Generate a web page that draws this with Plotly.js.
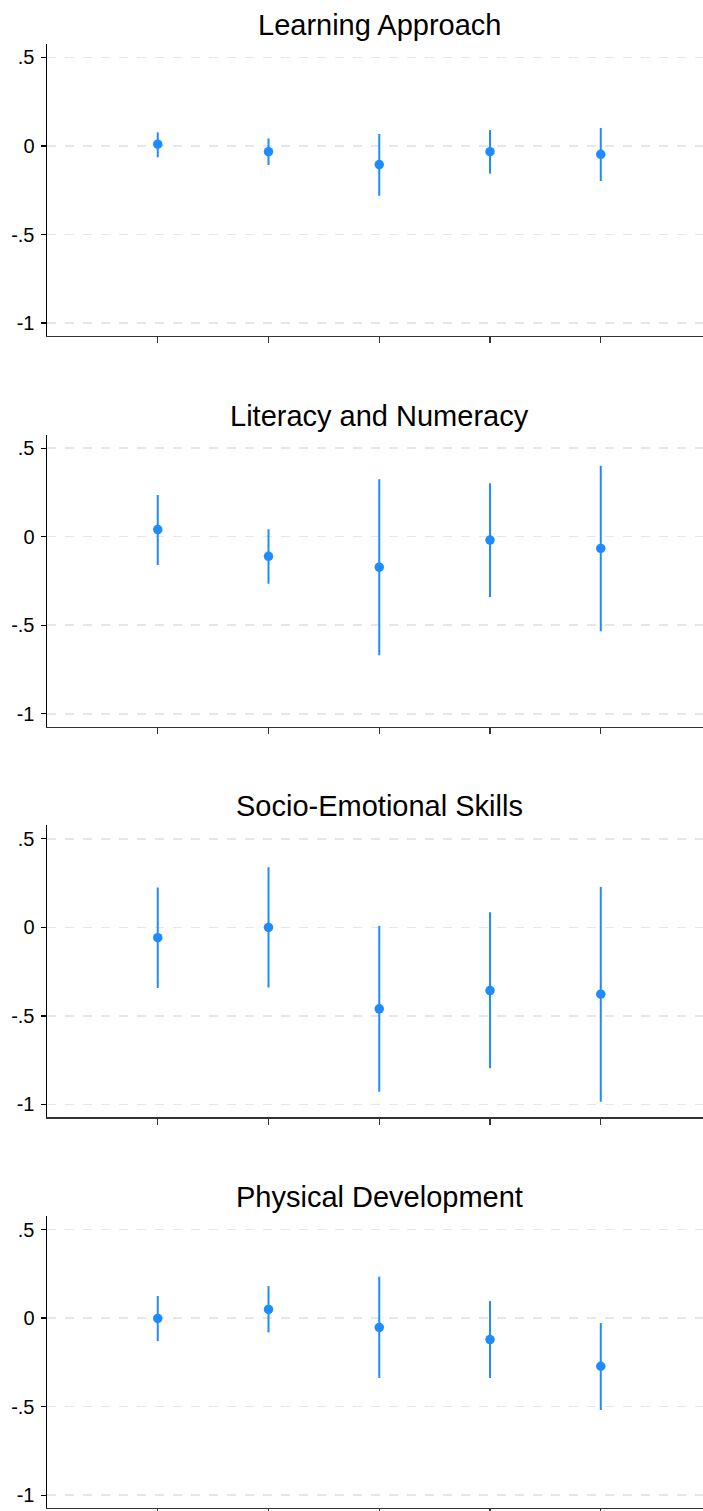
<!DOCTYPE html>
<html>
<head>
<meta charset="utf-8">
<script src="https://cdn.plot.ly/plotly-3.0.1.min.js"></script>
<style>html,body{margin:0;padding:0;background:#fff;}#chart{width:703px;height:1511px;}</style>
</head>
<body>
<div id="chart"></div>
<script>
// ---- data ----
const panelTitles = ["Learning Approach", "Literacy and Numeracy", "Socio-Emotional Skills", "Physical Development"];
const xPositions = [1, 2, 3, 4, 5];
const yTickVals = [0.5, 0, -0.5, -1];
const yTickText = [".5", "0", "-.5", "-1"];

const estLearning = [0.010, -0.032, -0.105, -0.032, -0.047];
const loLearning  = [-0.064, -0.107, -0.281, -0.156, -0.198];
const hiLearning  = [0.077, 0.043, 0.068, 0.090, 0.102];

const estLiteracy = [0.040, -0.111, -0.172, -0.019, -0.066];
const loLiteracy  = [-0.160, -0.266, -0.670, -0.340, -0.534];
const hiLiteracy  = [0.236, 0.042, 0.325, 0.302, 0.400];

const estSocio = [-0.058, 0.000, -0.460, -0.357, -0.377];
const loSocio  = [-0.342, -0.340, -0.928, -0.796, -0.985];
const hiSocio  = [0.225, 0.340, 0.009, 0.085, 0.228];

const estPhysical = [-0.002, 0.049, -0.053, -0.121, -0.272];
const loPhysical  = [-0.130, -0.081, -0.338, -0.338, -0.519];
const hiPhysical  = [0.125, 0.181, 0.234, 0.096, -0.028];

const panels = [
  {est: estLearning, lo: loLearning, hi: hiLearning},
  {est: estLiteracy, lo: loLiteracy, hi: hiLiteracy},
  {est: estSocio, lo: loSocio, hi: hiSocio},
  {est: estPhysical, lo: loPhysical, hi: hiPhysical}
];

// ---- layout geometry ----
const H = 1511;
const blue = "rgb(30,140,255)";
const fontFam = "'Liberation Sans', Arial, Helvetica, sans-serif";
const panelTop0 = 44, panelBot0 = 336, step = 390.7;

const traces = [];
const layout = {
  width: 703, height: H,
  margin: {l: 47, r: 0, t: 0, b: 0},
  paper_bgcolor: "#fff", plot_bgcolor: "#fff",
  showlegend: false,
  font: {family: fontFam, color: "#000"},
  annotations: []
};

panels.forEach((p, i) => {
  const n = i + 1;
  const xa = n === 1 ? "x" : "x" + n;
  const ya = n === 1 ? "y" : "y" + n;
  traces.push({
    type: "scatter", mode: "markers",
    x: xPositions, y: p.est,
    xaxis: xa, yaxis: ya,
    marker: {color: blue, size: 9.5},
    error_y: {
      type: "data", symmetric: false,
      array: p.est.map((v, k) => p.hi[k] - v),
      arrayminus: p.est.map((v, k) => v - p.lo[k]),
      width: 0, thickness: 2, color: blue
    },
    hoverinfo: "none"
  });
  const top = panelTop0 + step * i, bot = panelBot0 + step * i;
  const dom = [1 - bot / H, 1 - top / H];
  layout[n === 1 ? "xaxis" : "xaxis" + n] = {
    domain: [0, 1], anchor: ya,
    range: [0, 5.923],
    tickmode: "array", tickvals: xPositions,
    showticklabels: false,
    ticks: "outside", ticklen: 6, tickwidth: 1.2, tickcolor: "#333",
    showline: true, linecolor: "#333", linewidth: 1.3,
    showgrid: false, zeroline: false, fixedrange: true
  };
  layout[n === 1 ? "yaxis" : "yaxis" + n] = {
    domain: dom, anchor: xa,
    range: [-1.073, 0.576],
    tickmode: "array", tickvals: yTickVals, ticktext: yTickText,
    ticks: "outside", ticklen: 5, tickwidth: 1.2, tickcolor: "#000",
    tickfont: {size: 20, family: fontFam, color: "#000"},
    ticklabelstandoff: 2,
    showline: true, linecolor: "#000", linewidth: 1.5,
    showgrid: true, gridcolor: "#e6e6e6", gridwidth: 1.5, griddash: "dash",
    zeroline: false, fixedrange: true
  };
  layout.annotations.push({
    text: panelTitles[i],
    xref: xa, yref: "paper",
    x: 3, y: 1 - (top - 19) / H,
    xanchor: "center", yanchor: "middle",
    showarrow: false,
    font: {size: 29, family: fontFam, color: "#000"}
  });
});

Plotly.newPlot("chart", traces, layout, {displayModeBar: false, staticPlot: true});
</script>
</body>
</html>
